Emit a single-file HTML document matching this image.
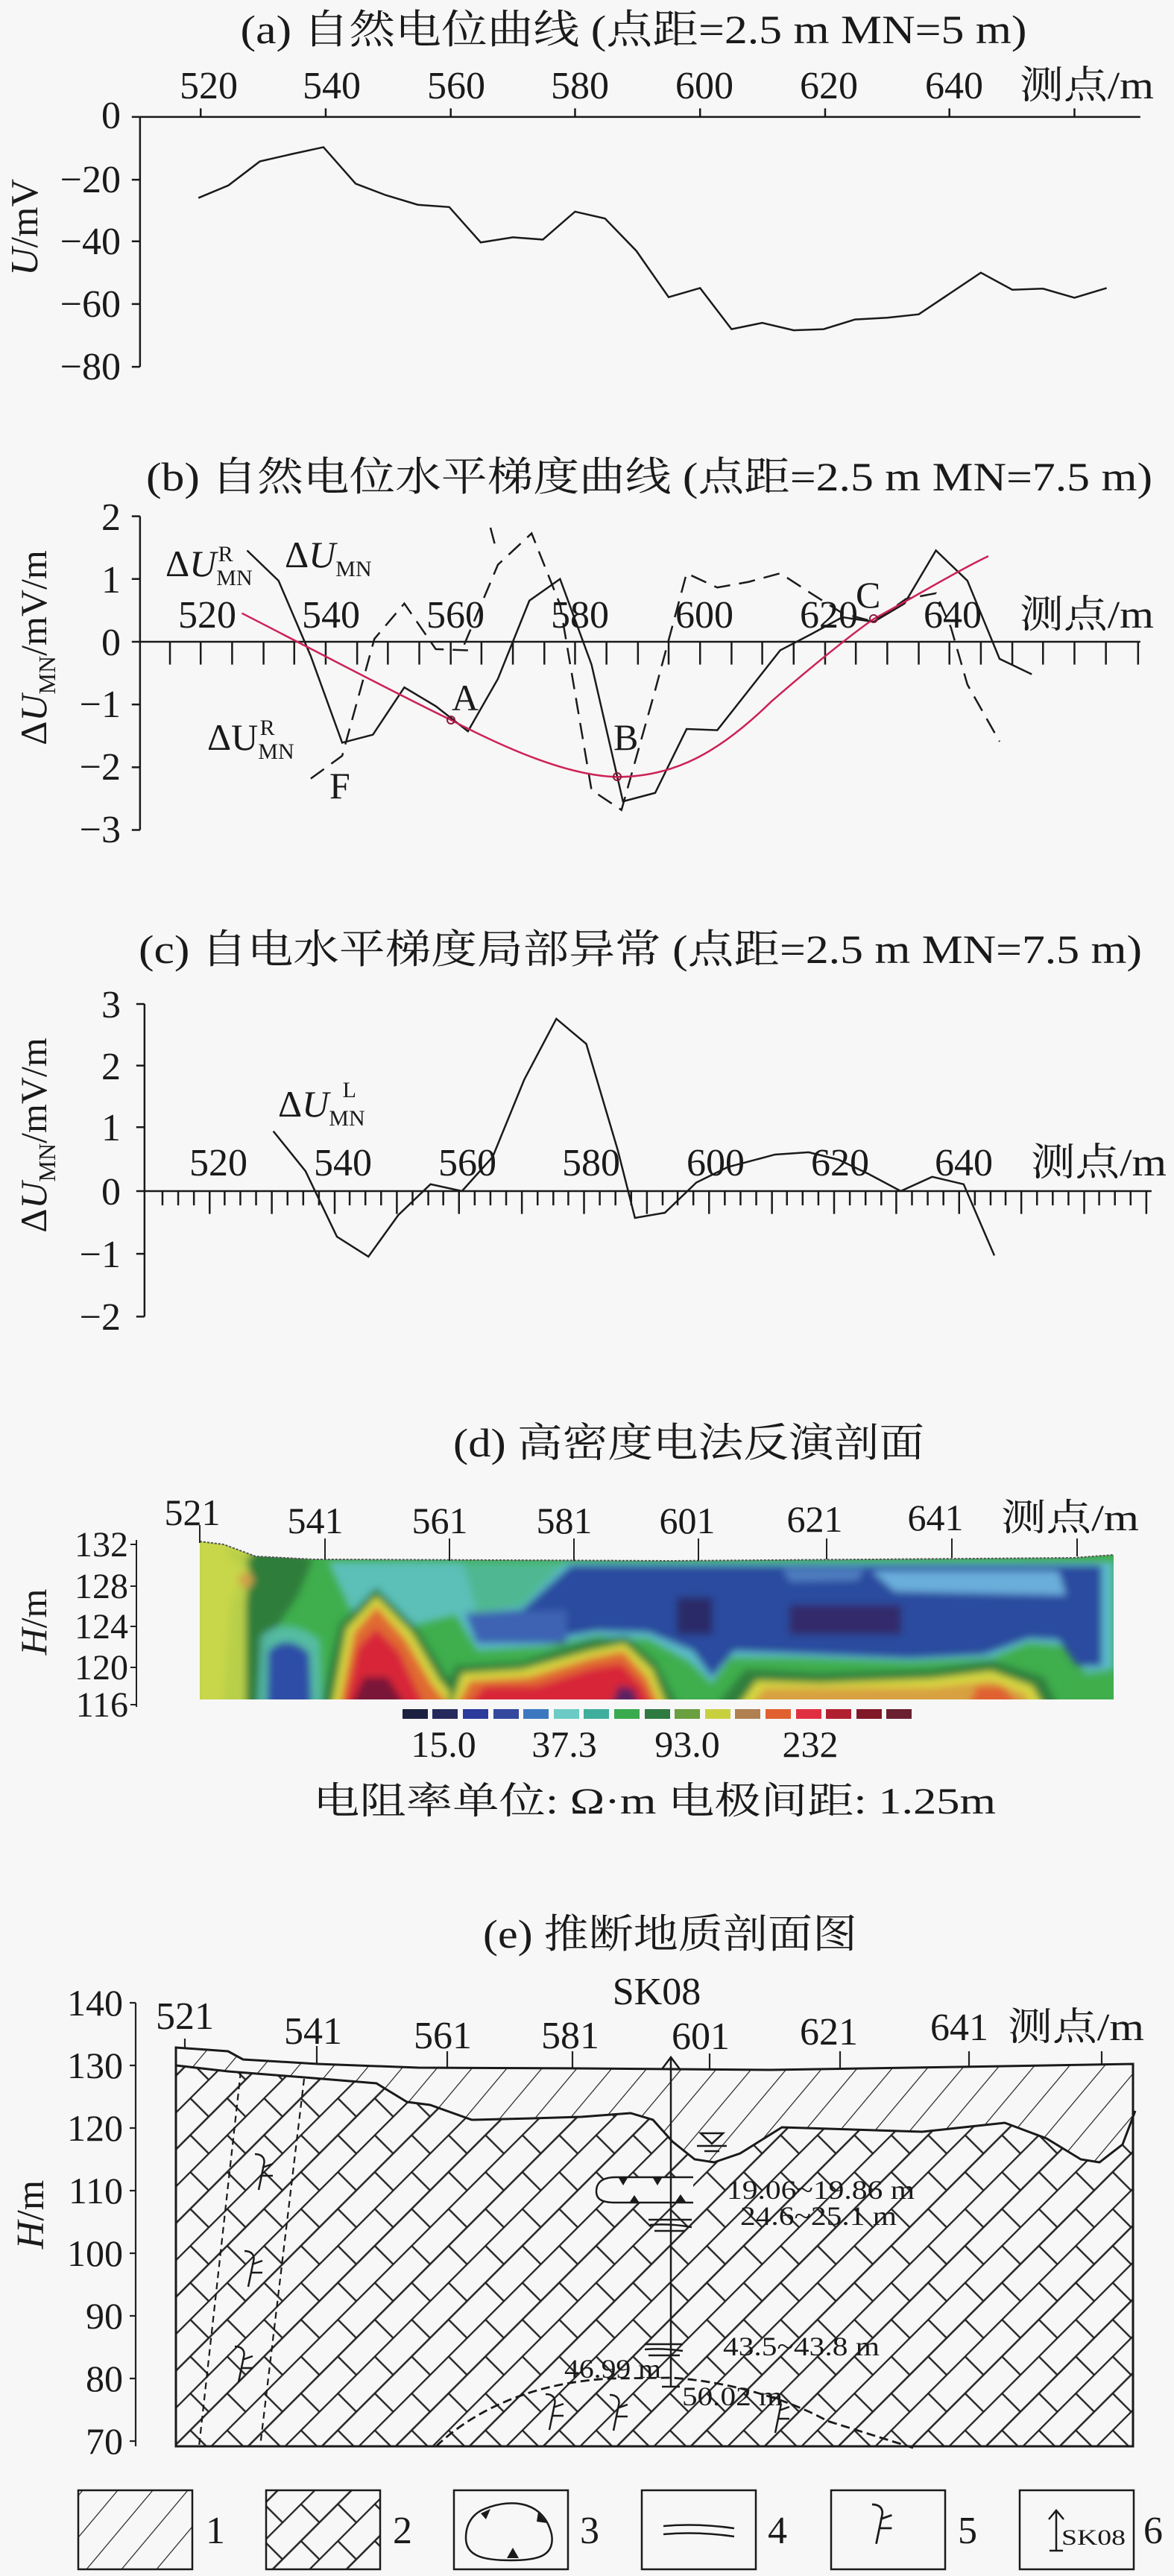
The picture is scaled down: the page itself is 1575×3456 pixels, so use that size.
<!DOCTYPE html>
<html><head><meta charset="utf-8"><style>
html,body{margin:0;padding:0;background:#f7f7f7;}
svg{display:block;}
text{font-family:"Liberation Serif","Noto Serif CJK SC","Noto Sans CJK SC",serif;fill:#1a1a1a;}
</style></head><body>
<svg width="1575" height="3456" viewBox="0 0 1575 3456" xmlns="http://www.w3.org/2000/svg">
<defs>
<pattern id="hatch" width="36" height="36" patternUnits="userSpaceOnUse" patternTransform="rotate(40)">
<line x1="0" y1="0" x2="0" y2="36" stroke="#222" stroke-width="2.4"/>
</pattern>
<pattern id="brick" width="70" height="70" patternUnits="userSpaceOnUse" patternTransform="rotate(-45)">
<line x1="0" y1="1" x2="70" y2="1" stroke="#222" stroke-width="2.4"/>
<line x1="0" y1="36" x2="70" y2="36" stroke="#222" stroke-width="2.4"/>
<line x1="10" y1="1" x2="10" y2="36" stroke="#222" stroke-width="2.4"/>
<line x1="45" y1="36" x2="45" y2="71" stroke="#222" stroke-width="2.4"/>
</pattern>
<filter id="bl" x="-5%" y="-5%" width="110%" height="110%"><feGaussianBlur stdDeviation="5"/></filter>
<clipPath id="secclip"><path d="M268,2068 L300,2072 L343,2088 L420,2092 L900,2094 L1440,2090 L1494,2086 L1494,2280 L268,2280 Z"/></clipPath>
<clipPath id="eclip"><path d="M236,2747 L306,2752 L326,2763 L426,2769 L561,2774 L780,2775 L1034,2777 L1287,2773 L1520,2769 L1520,3282 L236,3282 Z"/></clipPath>
</defs>

<!-- ============ (a) ============ -->
<text x="850" y="58" font-size="54" text-anchor="middle" textLength="1055" lengthAdjust="spacingAndGlyphs">(a) 自然电位曲线 (点距=2.5 m  MN=5 m)</text>
<g font-size="52" text-anchor="middle">
<text x="280" y="132">520</text><text x="445" y="132">540</text><text x="612" y="132">560</text><text x="778" y="132">580</text><text x="945" y="132">600</text><text x="1112" y="132">620</text><text x="1280" y="132">640</text>
</g>
<text x="1368" y="132" font-size="52" textLength="180" lengthAdjust="spacingAndGlyphs">测点/m</text>
<g font-size="52" text-anchor="end">
<text x="162" y="172">0</text><text x="162" y="258">−20</text><text x="162" y="341">−40</text><text x="162" y="425">−60</text><text x="162" y="509">−80</text>
</g>
<text transform="translate(50,305) rotate(-90)" font-size="52" text-anchor="middle"><tspan font-style="italic">U</tspan>/mV</text>
<g transform="scale(1.0045,0.7653)" fill="none" stroke="#1a1a1a" stroke-width="2.5">
<path vector-effect="non-scaling-stroke" d="M187,205 L1523,205 M187,205 L187,643 M176,205 L187,205 M176,315 L187,315 M176,423 L187,423 M176,533 L187,533 M176,643 L187,643 M268,205 V190 M435,205 V190 M602,205 V190 M768,205 V190 M935,205 V190 M1102,205 V190 M1268,205 V190 M1435,205 V190"/>
<path vector-effect="non-scaling-stroke" d="M265,347 L305,325 L347,283 L390,270 L432,258 L475,322 L515,342 L558,359 L600,363 L642,425 L685,416 L725,420 L768,371 L808,383 L850,440 L893,521 L935,505 L977,577 L1018,566 L1060,579 L1100,577 L1142,560 L1185,557 L1227,551 L1268,515 L1310,478 L1352,508 L1393,506 L1435,522 L1478,505"/>
</g>

<!-- ============ (b) ============ -->
<text x="871" y="658" font-size="54" text-anchor="middle" textLength="1350" lengthAdjust="spacingAndGlyphs">(b) 自然电位水平梯度曲线 (点距=2.5 m  MN=7.5 m)</text>
<g font-size="52" text-anchor="end">
<text x="162" y="711">2</text><text x="162" y="795">1</text><text x="162" y="879">0</text><text x="162" y="962">−1</text><text x="162" y="1046">−2</text><text x="162" y="1130">−3</text>
</g>
<g font-size="52" text-anchor="middle">
<text x="278" y="842">520</text><text x="444" y="842">540</text><text x="611" y="842">560</text><text x="778" y="842">580</text><text x="945" y="842">600</text><text x="1112" y="842">620</text><text x="1278" y="842">640</text>
</g>
<text x="1368" y="842" font-size="52" textLength="180" lengthAdjust="spacingAndGlyphs">测点/m</text>
<text transform="translate(62,869) rotate(-90)" font-size="50" text-anchor="middle">Δ<tspan font-style="italic">U</tspan><tspan font-size="32" dy="12">MN</tspan><tspan dy="-12">/mV/m</tspan></text>
<g transform="scale(1.0045,0.7653)" fill="none" stroke="#1a1a1a" stroke-width="2.5">
<path vector-effect="non-scaling-stroke" d="M187,905 L187,1455 M176,905 H187 M176,1015 H187 M176,1125 H187 M176,1235 H187 M176,1345 H187 M176,1455 H187 M187,1125 H1523"/>
<path vector-effect="non-scaling-stroke" d="M227,1125 V1165 M268,1125 V1165 M310,1125 V1165 M352,1125 V1165 M393,1125 V1165 M435,1125 V1165 M477,1125 V1165 M518,1125 V1165 M560,1125 V1165 M602,1125 V1165 M643,1125 V1165 M685,1125 V1165 M727,1125 V1165 M768,1125 V1165 M810,1125 V1165 M852,1125 V1165 M893,1125 V1165 M935,1125 V1165 M977,1125 V1165 M1018,1125 V1165 M1060,1125 V1165 M1102,1125 V1165 M1143,1125 V1165 M1185,1125 V1165 M1227,1125 V1165 M1268,1125 V1165 M1310,1125 V1165 M1352,1125 V1165 M1393,1125 V1165 M1435,1125 V1165 M1477,1125 V1165 M1520,1125 V1165"/>
<path vector-effect="non-scaling-stroke" d="M330,965 L372,1018 L415,1150 L457,1302 L498,1288 L540,1205 L582,1238 L625,1282 L665,1190 L707,1053 L748,1015 L790,1165 L832,1405 L875,1390 L917,1278 L958,1280 L1000,1210 L1042,1140 L1083,1112 L1125,1082 L1167,1090 L1208,1058 L1250,965 L1292,1018 L1335,1155 L1378,1182"/>
<path vector-effect="non-scaling-stroke" stroke-dasharray="22,12" d="M415,1365 L457,1325 L500,1120 L540,1058 L582,1138 L625,1140 M620,1130 L665,990 L710,935 L748,1060 L790,1385 L830,1420 L875,1210 L917,1005 L958,1030 L1000,1020 L1042,1005 L1083,1040 L1125,1075 L1167,1090 L1210,1050 L1250,1040 L1270,1100 L1292,1200 L1335,1300 M655,925 L662,960"/>
<path vector-effect="non-scaling-stroke" stroke="#cc2255" d="M323,1075 C420,1140 520,1210 602,1262 C680,1315 760,1360 824,1362 C900,1362 960,1320 1030,1230 C1100,1150 1150,1100 1167,1085 C1230,1040 1280,1000 1320,975"/>
</g>
<g fill="none" stroke="#8a1a3a" stroke-width="2">
<circle cx="605" cy="966" r="5"/><circle cx="828" cy="1042" r="5"/><circle cx="1172" cy="830" r="5"/>
</g>
<text x="222" y="773" font-size="50">Δ<tspan font-style="italic">U</tspan><tspan font-size="30" dy="12">MN</tspan><tspan font-size="30" dx="-46" dy="-32">R</tspan></text>
<text x="382" y="761" font-size="50">Δ<tspan font-style="italic">U</tspan><tspan font-size="30" dy="12">MN</tspan></text>
<text x="278" y="1006" font-size="50">ΔU<tspan font-size="30" dy="12">MN</tspan><tspan font-size="30" dx="-46" dy="-32">R</tspan></text>
<text x="442" y="1071" font-size="50">F</text>
<text x="606" y="953" font-size="50">A</text>
<text x="823" y="1006" font-size="50">B</text>
<text x="1148" y="815" font-size="50">C</text>

<!-- ============ (c) ============ -->
<text x="859" y="1292" font-size="54" text-anchor="middle" textLength="1346" lengthAdjust="spacingAndGlyphs">(c) 自电水平梯度局部异常 (点距=2.5 m  MN=7.5 m)</text>
<g font-size="52" text-anchor="end">
<text x="162" y="1365">3</text><text x="162" y="1448">2</text><text x="162" y="1530">1</text><text x="162" y="1616">0</text><text x="162" y="1700">−1</text><text x="162" y="1784">−2</text>
</g>
<g font-size="52" text-anchor="middle">
<text x="293" y="1577">520</text><text x="460" y="1577">540</text><text x="627" y="1577">560</text><text x="793" y="1577">580</text><text x="960" y="1577">600</text><text x="1127" y="1577">620</text><text x="1293" y="1577">640</text>
</g>
<text x="1383" y="1577" font-size="52" textLength="182" lengthAdjust="spacingAndGlyphs">测点/m</text>
<text transform="translate(62,1523) rotate(-90)" font-size="50" text-anchor="middle">Δ<tspan font-style="italic">U</tspan><tspan font-size="32" dy="12">MN</tspan><tspan dy="-12">/mV/m</tspan></text>
<text x="373" y="1498" font-size="50">Δ<tspan font-style="italic">U</tspan><tspan font-size="30" dy="12">MN</tspan><tspan font-size="30" dx="-30" dy="-38">L</tspan></text>
<g transform="translate(0,1200) scale(1.0045,0.7653)" fill="none" stroke="#1a1a1a" stroke-width="2.5">
<path vector-effect="non-scaling-stroke" d="M193,192 V740 M182,192 H193 M182,300 H193 M182,408 H193 M182,520 H193 M182,630 H193 M182,740 H193 M193,520 H1538"/>
<path vector-effect="non-scaling-stroke" d="M217,520 V545 M238,520 V545 M259,520 V545 M280,520 V560 M300,520 V545 M321,520 V545 M342,520 V545 M363,520 V560 M384,520 V545 M405,520 V545 M426,520 V545 M447,520 V560 M467,520 V545 M488,520 V545 M509,520 V545 M530,520 V560 M551,520 V545 M572,520 V545 M592,520 V545 M613,520 V560 M634,520 V545 M655,520 V545 M676,520 V545 M697,520 V560 M718,520 V545 M739,520 V545 M759,520 V545 M780,520 V560 M801,520 V545 M822,520 V545 M843,520 V545 M864,520 V560 M885,520 V545 M905,520 V545 M926,520 V545 M947,520 V560 M968,520 V545 M989,520 V545 M1010,520 V545 M1031,520 V560 M1051,520 V545 M1072,520 V545 M1093,520 V545 M1114,520 V560 M1135,520 V545 M1156,520 V545 M1177,520 V545 M1197,520 V560 M1218,520 V545 M1239,520 V545 M1260,520 V545 M1281,520 V560 M1302,520 V545 M1323,520 V545 M1343,520 V545 M1364,520 V560 M1385,520 V545 M1406,520 V545 M1427,520 V545 M1448,520 V560 M1468,520 V545 M1489,520 V545 M1510,520 V545 M1531,520 V560"/>
<path vector-effect="non-scaling-stroke" d="M365,415 L408,485 L450,600 L492,635 L532,562 L575,508 L617,520 L658,460 L700,325 L743,218 L783,262 L825,448 L848,567 L888,558 L930,505 L972,478 L1035,456 L1080,452 L1120,465 L1160,490 L1203,520 L1245,495 L1287,508 L1328,633"/>
</g>

<!-- ============ (d) ============ -->
<text x="924" y="1954" font-size="54" text-anchor="middle" textLength="632" lengthAdjust="spacingAndGlyphs">(d) 高密度电法反演剖面</text>
<g font-size="50" text-anchor="middle">
<text x="258" y="2046">521</text><text x="423" y="2057">541</text><text x="590" y="2057">561</text><text x="757" y="2057">581</text><text x="922" y="2057">601</text><text x="1093" y="2055">621</text><text x="1255" y="2053">641</text>
</g>
<text x="1343" y="2053" font-size="50" textLength="185" lengthAdjust="spacingAndGlyphs">测点/m</text>
<g font-size="48" text-anchor="end">
<text x="172" y="2088">132</text><text x="172" y="2144">128</text><text x="172" y="2198">124</text><text x="172" y="2253">120</text><text x="172" y="2303">116</text>
</g>
<text transform="translate(62,2176) rotate(-90)" font-size="50" text-anchor="middle"><tspan font-style="italic">H</tspan>/m</text>
<path d="M183,2066 V2290 M175,2072 H183 M175,2128 H183 M175,2182 H183 M175,2237 H183 M175,2287 H183" stroke="#222" stroke-width="2" fill="none"/>
<g clip-path="url(#secclip)">
<rect x="260" y="2060" width="1240" height="225" fill="#3fae4c"/>
<g filter="url(#bl)">
<path d="M260,2060 H345 V2290 H260 Z" fill="#c8d64a"/>
<path d="M300,2080 L330,2110 L310,2150 L300,2290 L345,2290 L345,2080 Z" fill="#b8cf48"/>
<path d="M340,2070 L420,2090 L400,2140 L360,2200 L350,2290 L330,2290 L330,2150 Z" fill="#2e7d3a"/>
<path d="M330,2090 L350,2090 L340,2130 Z" fill="#2e7d3a"/>
<circle cx="330" cy="2120" r="10" fill="#d0a048"/>
<path d="M440,2095 L620,2095 L640,2160 L560,2180 L470,2160 Z" fill="#5bbfb8"/>
<path d="M620,2095 L770,2095 L760,2150 L640,2160 Z" fill="#4fb892"/>
<path d="M350,2195 Q385,2165 430,2200 L432,2290 L345,2290 Z" fill="#5bbfb8" opacity="0.8"/>
<path d="M360,2215 Q385,2190 415,2218 L418,2290 L358,2290 Z" fill="#2f4ea6"/>
<path d="M610,2165 L700,2155 L760,2095 L1494,2095 L1494,2240 L1455,2245 L1440,2210 L1380,2205 L1330,2225 L1220,2230 L1060,2225 L980,2225 L955,2260 L925,2230 L870,2200 L800,2195 L730,2210 L640,2215 Z" fill="#5cbcc8"/>
<path d="M624,2165 L700,2160 L766,2100 L1478,2100 L1478,2235 L1445,2235 L1420,2200 L1380,2198 L1320,2220 L1220,2225 L1060,2218 L985,2215 L955,2250 L930,2215 L870,2190 L800,2188 L730,2200 L640,2205 Z" fill="#2c4b9f"/>
<path d="M1050,2105 L1160,2105 L1150,2120 L1060,2122 Z" fill="#4f7ec0"/>
<path d="M1170,2108 L1420,2108 L1430,2140 L1200,2135 Z" fill="#6aaedc"/>
<path d="M624,2165 L760,2160 L760,2205 L640,2205 Z" fill="#3e63b2"/>
<path d="M908,2143 L956,2143 L956,2193 L908,2193 Z" fill="#2c2a68"/>
<path d="M1059,2153 L1209,2153 L1209,2193 L1059,2193 Z" fill="#302a6a"/>
<path d="M430,2290 L455,2180 L505,2130 L560,2185 L600,2250 L640,2245 L640,2290 Z" fill="#2f7f3c"/>
<path d="M445,2290 L465,2185 L505,2142 L552,2190 L590,2255 L620,2290 Z" fill="#d8d840"/>
<path d="M455,2290 L475,2190 L505,2155 L545,2200 L580,2260 L605,2290 Z" fill="#e06a32"/>
<path d="M462,2290 L480,2210 L505,2185 L535,2215 L570,2290 Z" fill="#d82838"/>
<path d="M470,2290 L488,2250 L520,2250 L545,2290 Z" fill="#7a1838"/>
<path d="M600,2290 L610,2235 L700,2230 L790,2200 L840,2195 L880,2230 L910,2290 Z" fill="#2f7f3c"/>
<path d="M605,2290 L620,2245 L700,2240 L790,2215 L838,2205 L875,2240 L895,2290 Z" fill="#d8d840"/>
<path d="M612,2290 L630,2255 L710,2250 L790,2225 L836,2215 L868,2250 L885,2290 Z" fill="#e06a32"/>
<path d="M625,2290 L650,2262 L720,2262 L795,2238 L834,2232 L862,2262 L875,2290 Z" fill="#d82838"/>
<path d="M820,2290 L830,2262 L850,2265 L858,2290 Z" fill="#5a2060"/>
<path d="M960,2290 L1000,2240 L1100,2245 L1250,2240 L1330,2228 L1400,2250 L1420,2290 Z" fill="#2f7f3c"/>
<path d="M990,2290 L1015,2255 L1100,2258 L1250,2252 L1330,2242 L1385,2262 L1400,2290 Z" fill="#d8d840"/>
<path d="M1005,2290 L1025,2265 L1250,2264 L1330,2255 L1375,2272 L1385,2290 Z" fill="#d8a040"/>
<path d="M1300,2290 L1310,2262 L1345,2262 L1370,2290 Z" fill="#e06030"/>
<path d="M1440,2250 L1494,2250 L1494,2290 L1430,2290 Z" fill="#3fae4c"/>
</g>
</g>
<path d="M268,2068 L300,2072 L343,2088 L420,2092 L900,2094 L1440,2090 L1494,2086" stroke="#555" stroke-width="2" fill="none" stroke-dasharray="3,2"/>
<path d="M268,2046 V2070 M436,2064 V2092 M603,2064 V2094 M770,2064 V2094 M937,2064 V2094 M1109,2064 V2092 M1277,2064 V2090 M1445,2064 V2088" stroke="#222" stroke-width="2"/>
<g>
<rect x="540" y="2293" width="34" height="13" fill="#1c2140"/>
<rect x="580" y="2293" width="34" height="13" fill="#252a5c"/>
<rect x="621" y="2293" width="34" height="13" fill="#2c3a9c"/>
<rect x="662" y="2293" width="34" height="13" fill="#34489e"/>
<rect x="702" y="2293" width="34" height="13" fill="#3c78c0"/>
<rect x="743" y="2293" width="34" height="13" fill="#6ccac4"/>
<rect x="783" y="2293" width="34" height="13" fill="#40ae9c"/>
<rect x="824" y="2293" width="34" height="13" fill="#3aaa4e"/>
<rect x="865" y="2293" width="34" height="13" fill="#2e7a40"/>
<rect x="905" y="2293" width="34" height="13" fill="#6aa040"/>
<rect x="946" y="2293" width="34" height="13" fill="#c8d040"/>
<rect x="986" y="2293" width="34" height="13" fill="#b08050"/>
<rect x="1027" y="2293" width="34" height="13" fill="#e06030"/>
<rect x="1068" y="2293" width="34" height="13" fill="#e03040"/>
<rect x="1108" y="2293" width="34" height="13" fill="#b02030"/>
<rect x="1149" y="2293" width="34" height="13" fill="#801828"/>
<rect x="1189" y="2293" width="34" height="13" fill="#6a2030"/>
</g>
<g font-size="50" text-anchor="middle">
<text x="595" y="2357">15.0</text><text x="757" y="2357">37.3</text><text x="922" y="2357">93.0</text><text x="1087" y="2357">232</text>
</g>
<text x="420" y="2433" font-size="50" textLength="916" lengthAdjust="spacingAndGlyphs">电阻率单位: Ω·m  电极间距: 1.25m</text>

<!-- ============ (e) ============ -->
<text x="899" y="2613" font-size="54" text-anchor="middle" textLength="502" lengthAdjust="spacingAndGlyphs">(e) 推断地质剖面图</text>
<g font-size="50" text-anchor="end">
<text x="165" y="2704">140</text><text x="165" y="2788">130</text><text x="165" y="2872">120</text><text x="165" y="2956">110</text><text x="165" y="3040">100</text><text x="165" y="3124">90</text><text x="165" y="3208">80</text><text x="165" y="3292">70</text>
</g>
<path d="M182,2687 V3282 M174,2687 H182 M174,2771 H182 M174,2855 H182 M174,2939 H182 M174,3023 H182 M174,3107 H182 M174,3191 H182 M174,3275 H182" stroke="#222" stroke-width="2.2" fill="none"/>
<text transform="translate(58,2971) rotate(-90)" font-size="52" text-anchor="middle"><tspan font-style="italic">H</tspan>/m</text>
<g font-size="52" text-anchor="middle">
<text x="248" y="2722">521</text><text x="420" y="2742">541</text><text x="594" y="2748">561</text><text x="765" y="2748">581</text><text x="940" y="2749">601</text><text x="1112" y="2743">621</text><text x="1287" y="2737">641</text>
<text x="881" y="2689">SK08</text>
</g>
<text x="1352" y="2737" font-size="52" textLength="183" lengthAdjust="spacingAndGlyphs">测点/m</text>
<path d="M248,2735 V2748 M425,2745 V2769 M600,2752 V2774 M768,2752 V2774 M952,2755 V2777 M1127,2752 V2776 M1300,2752 V2773 M1478,2752 V2770" stroke="#222" stroke-width="2.2"/>
<g clip-path="url(#eclip)">
<rect x="230" y="2740" width="1300" height="550" fill="url(#brick)"/>
<path d="M230,2740 L1530,2740 L1530,2832 L1506,2877 L1475,2901 L1450,2897 L1404,2869 L1348,2848 L1237,2860 L1049,2854 L993,2889 L958,2901 L932,2897 L902,2873 L876,2844 L846,2835 L780,2840 L714,2842 L633,2844 L577,2824 L546,2820 L505,2795 L408,2787 L306,2779 L236,2771 L230,2771 Z" fill="#f7f7f7"/>
<path d="M230,2740 L1530,2740 L1530,2832 L1506,2877 L1475,2901 L1450,2897 L1404,2869 L1348,2848 L1237,2860 L1049,2854 L993,2889 L958,2901 L932,2897 L902,2873 L876,2844 L846,2835 L780,2840 L714,2842 L633,2844 L577,2824 L546,2820 L505,2795 L408,2787 L306,2779 L236,2771 L230,2771 Z" fill="url(#hatch)"/>
</g>
<g fill="none" stroke="#1a1a1a" stroke-width="3">
<path d="M236,2747 L306,2752 L326,2763 L426,2769 L561,2774 L780,2775 L1034,2777 L1287,2773 L1520,2769 L1520,3282 L236,3282 Z"/>
<path d="M236,2771 L306,2779 L408,2787 L505,2795 L546,2820 L577,2824 L633,2844 L714,2842 L780,2840 L846,2835 L876,2844 L902,2873 L932,2897 L958,2901 L993,2889 L1049,2854 L1237,2860 L1348,2848 L1404,2869 L1450,2897 L1475,2901 L1506,2877 L1523,2832"/>
</g>
<g fill="none" stroke="#1a1a1a" stroke-width="2.2" stroke-dasharray="9,6">
<path d="M323,2779 L267,3282"/><path d="M408,2789 L349,3282"/>
</g>
<path d="M585,3282 C640,3230 720,3196 820,3191 L900,3190 C980,3195 1060,3220 1110,3248 L1225,3284" fill="none" stroke="#1a1a1a" stroke-width="2.8" stroke-dasharray="12,6"/>
<path d="M930,2921 L826,2921 C806,2921 800,2930 800,2940 C800,2952 810,2955 826,2955 L930,2955" fill="#f7f7f7" stroke="#1a1a1a" stroke-width="2.5"/>
<path d="M830,2922 L842,2922 L836,2932 Z M876,2922 L888,2922 L882,2932 Z M845,2954 L857,2954 L851,2945 Z M906,2954 L920,2954 L913,2944 Z" fill="#1a1a1a"/>
<g stroke="#1a1a1a" stroke-width="2.5" fill="none">
<path d="M900,2760 V3202 M888,2776 L900,2760 L912,2776 M888,3202 H912"/>
<path d="M940,2862 L970,2862 L955,2876 Z M935,2879 H975 M945,2886 H965"/>
<path d="M870,2978 H928 M872,2985 Q900,2983 928,2988 M878,2993 H918"/>
<path d="M865,3145 H916 M865,3152 Q890,3150 916,3154 M870,3160 H912"/>
</g>
<g font-size="36">
<text x="975" y="2950" textLength="252" lengthAdjust="spacingAndGlyphs">19.06~19.86 m</text>
<text x="993" y="2985" textLength="210" lengthAdjust="spacingAndGlyphs">24.6~25.1 m</text>
<text x="970" y="3160" textLength="210" lengthAdjust="spacingAndGlyphs">43.5~43.8 m</text>
<text x="757" y="3190" textLength="130" lengthAdjust="spacingAndGlyphs">46.99 m</text>
<text x="915" y="3227" textLength="135" lengthAdjust="spacingAndGlyphs">50.02 m</text>
</g>
<g fill="none" stroke="#1a1a1a" stroke-width="2.5">
<path d="M0,0 C10,0 14,6 12,14 L5,48 M10,18 L24,13 M8,29 L24,29" transform="translate(342,2890)"/>
<path d="M0,0 C10,0 14,6 12,14 L5,48 M10,18 L24,13 M8,29 L24,29" transform="translate(328,3020)"/>
<path d="M0,0 C10,0 14,6 12,14 L5,48 M10,18 L24,13 M8,29 L24,29" transform="translate(315,3148)"/>
<path d="M0,0 C10,0 14,6 12,14 L5,48 M10,18 L24,13 M8,29 L24,29" transform="translate(732,3212)"/>
<path d="M0,0 C10,0 14,6 12,14 L5,48 M10,18 L24,13 M8,29 L24,29" transform="translate(818,3213)"/>
<path d="M0,0 C10,0 14,6 12,14 L5,48 M10,18 L24,13 M8,29 L24,29" transform="translate(1035,3216)"/>
</g>

<g stroke="#1a1a1a" stroke-width="2.5">
<rect x="105" y="3341" width="153" height="106" fill="url(#hatch)"/>
<rect x="357" y="3341" width="153" height="106" fill="url(#brick)"/>
<rect x="609" y="3341" width="153" height="106" fill="none"/>
<rect x="861" y="3341" width="153" height="106" fill="none"/>
<rect x="1115" y="3341" width="153" height="106" fill="none"/>
<rect x="1368" y="3341" width="153" height="106" fill="none"/>
</g>
<g fill="none" stroke="#1a1a1a" stroke-width="2.5">
<path d="M650,3366 C690,3350 730,3358 740,3400 C745,3430 720,3435 685,3435 C650,3435 625,3430 625,3405 C625,3385 635,3372 650,3366 Z"/>
<path d="M890,3389 Q935,3385 985,3392 M890,3400 Q935,3396 985,3403"/>
<path d="M0,0 C10,0 14,6 12,14 L5,48 M10,18 L24,13 M8,29 L24,29" transform="translate(1170,3360) scale(1.1)"/>
<path d="M1417,3368 V3422 M1407,3380 L1417,3368 L1427,3380 M1408,3422 H1426"/>
</g>
<path d="M645,3372 L658,3366 L652,3380 Z M722,3370 L734,3385 L720,3383 Z M680,3432 L688,3418 L696,3432 Z" fill="#1a1a1a"/>
<text x="1424" y="3414" font-size="30" textLength="86" lengthAdjust="spacingAndGlyphs">SK08</text>
<g font-size="52">
<text x="276" y="3412">1</text><text x="527" y="3412">2</text><text x="778" y="3412">3</text><text x="1030" y="3412">4</text><text x="1285" y="3412">5</text><text x="1534" y="3412">6</text>
</g>
</svg>
</body></html>
